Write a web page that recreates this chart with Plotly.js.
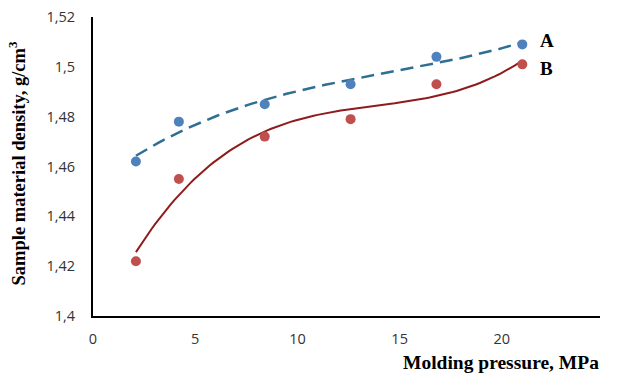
<!DOCTYPE html>
<html>
<head>
<meta charset="utf-8">
<script src="https://cdn.plot.ly/plotly-3.0.1.min.js"></script>
<style>html,body{margin:0;padding:0;background:#fff;}#chart{width:617px;height:379px;}</style>
</head>
<body>
<div id="chart"></div>
<script>
const pressure = [2.1, 4.2, 8.4, 12.6, 16.8, 21];
const densityA = [1.462, 1.478, 1.485, 1.493, 1.504, 1.509];
const densityB = [1.422, 1.455, 1.472, 1.479, 1.493, 1.501];
const yTickVals = [1.4, 1.42, 1.44, 1.46, 1.48, 1.5, 1.52];
const yTickText = ['1,4', '1,42', '1,44', '1,46', '1,48', '1,5', '1,52'];
const xTickVals = [0, 5, 10, 15, 20];
const xTickText = ['0', '5', '10', '15', '20'];

// least-squares polynomial trendline (as in a spreadsheet trendline)
function polyfit(xs, ys, order) {
  const n = order + 1;
  const A = [];
  for (let i = 0; i < n; i++) {
    A.push([]);
    for (let j = 0; j < n; j++) {
      let s = 0;
      for (let k = 0; k < xs.length; k++) s += Math.pow(xs[k], i + j);
      A[i].push(s);
    }
    let s = 0;
    for (let k = 0; k < xs.length; k++) s += ys[k] * Math.pow(xs[k], i);
    A[i].push(s);
  }
  for (let c = 0; c < n; c++) {
    let p = c;
    for (let r = c + 1; r < n; r++) if (Math.abs(A[r][c]) > Math.abs(A[p][c])) p = r;
    [A[c], A[p]] = [A[p], A[c]];
    for (let r = 0; r < n; r++) {
      if (r === c) continue;
      const f = A[r][c] / A[c][c];
      for (let j = c; j <= n; j++) A[r][j] -= f * A[c][j];
    }
  }
  return A.map((row, i) => row[n] / row[i]);
}
function trend(xs, ys, order) {
  const coef = polyfit(xs, ys, order);
  const x0 = Math.min(...xs), x1 = Math.max(...xs);
  const tx = [], ty = [];
  for (let i = 0; i <= 100; i++) {
    const x = x0 + (x1 - x0) * i / 100;
    tx.push(x);
    ty.push(coef.reduce((s, c, k) => s + c * Math.pow(x, k), 0));
  }
  return {x: tx, y: ty};
}
const tA = trend(pressure, densityA, 3);
const tB = trend(pressure, densityB, 3);

const data = [
  {x: tA.x, y: tA.y, mode: 'lines', line: {color: '#2f6f93', width: 2.5, dash: '13px,7px'}, hoverinfo: 'skip'},
  {x: tB.x, y: tB.y, mode: 'lines', line: {color: '#8e1c1c', width: 2}, hoverinfo: 'skip'},
  {x: pressure, y: densityA, mode: 'markers', name: 'A', marker: {color: '#4f81bd', size: 10}},
  {x: pressure, y: densityB, mode: 'markers', name: 'B', marker: {color: '#c0504d', size: 10}}
];

const layout = {
  width: 617, height: 379,
  margin: {l: 93, r: 17, t: 17, b: 63},
  showlegend: false,
  paper_bgcolor: '#fff', plot_bgcolor: '#fff',
  xaxis: {
    range: [0, 24.8], showgrid: false, zeroline: false,
    showline: true, linecolor: '#000', linewidth: 2,
    tickvals: xTickVals, ticktext: xTickText, ticks: '',
    ticklabelstandoff: 9,
    tickfont: {family: 'Open Sans, sans-serif', size: 14.5, color: '#333'}
  },
  yaxis: {
    range: [1.4, 1.52], showgrid: false, zeroline: false,
    showline: true, linecolor: '#000', linewidth: 2,
    tickvals: yTickVals, ticktext: yTickText, ticks: '',
    ticklabelstandoff: 13,
    tickfont: {family: 'Open Sans, sans-serif', size: 14.5, color: '#333'}
  },
  annotations: [
    {text: '<b>Molding pressure, MPa</b>', xref: 'paper', yref: 'paper', x: 1.002, y: -0.155,
     xanchor: 'right', yanchor: 'middle', showarrow: false,
     font: {family: 'Liberation Serif, serif', size: 19.5, color: '#000'}},
    {text: '<b>Sample material density, g/cm<sup>3</sup></b>', xref: 'paper', yref: 'paper',
     x: -0.15, y: 0.51, xanchor: 'center', yanchor: 'middle', textangle: -90, showarrow: false,
     font: {family: 'Liberation Serif, serif', size: 18.5, color: '#000'}},
    {text: '<b>A</b>', xref: 'x', yref: 'y', x: 21, y: 1.509, xshift: 16, yshift: 4, xanchor: 'left', yanchor: 'middle',
     showarrow: false, font: {family: 'Liberation Serif, serif', size: 19, color: '#000'}},
    {text: '<b>B</b>', xref: 'x', yref: 'y', x: 21, y: 1.501, xshift: 16, yshift: -4, xanchor: 'left', yanchor: 'middle',
     showarrow: false, font: {family: 'Liberation Serif, serif', size: 19, color: '#000'}}
  ]
};

Plotly.newPlot('chart', data, layout, {displayModeBar: false, staticPlot: true});
</script>
</body>
</html>
